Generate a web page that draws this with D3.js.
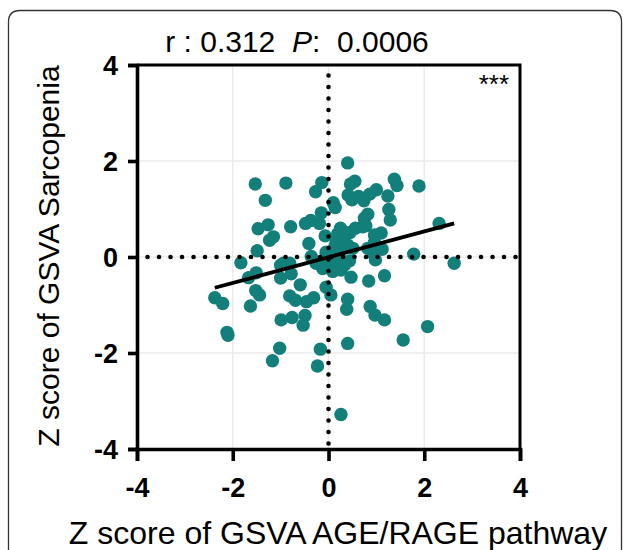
<!DOCTYPE html>
<html>
<head>
    <meta charset="utf-8">
    <title>GSVA correlation</title>
    <style>
        body { margin: 0; background: #fff; }
        text { font-family: "Liberation Sans", Arial, sans-serif; }
        .grid line { stroke: #ebebeb; stroke-width: 1.5px; }
        .dot { fill: #127f7a; }
        .ref { stroke: #000; stroke-width: 4.6px; stroke-linecap: round; stroke-dasharray: 0 11.5; }
        .tick-label { font-size: 27px; font-weight: bold; }
    </style>
    <script src="https://d3js.org/d3.v7.min.js"></script>
</head>
<body>
<svg id="chart" width="627" height="550"></svg>

<script>
    // AGE/RAGE pathway z score (x) and Sarcopenia z score (y)
    var ageRage = [0.40, -1.53, -0.89, -1.32, -0.14, -0.27, 0.46, 0.55, 0.41, 0.49,
        0.63, 0.74, 0.86, 1.00, 1.24, 1.375, 1.43, 1.89, 1.26, 1.29,
        0.82, 0.78, 1.10, 2.31, 0.10, 0.14, -0.15, -0.48, -0.37, -0.19,
        -0.79, -1.47, -1.26, -1.23, -1.15, -1.49, -0.41, -0.07, 0.25, 0.19,
        0.30, 0.45, 0.56, 0.71, 0.16, 0.33, 0.51, 0.96, 1.12, 0.94,
        1.78, 2.625, -1.83, -0.94, -0.81, 0.44, -1.67, -1.51, -2.375, -2.21,
        -2.12, -2.10, -1.52, -1.44, -1.63, -1.00, -1.00, -0.78, -0.59, -0.81,
        -0.69, -0.46, -0.31, -0.99, -0.76, -0.49, -0.53, -1.02, -1.17, -0.17,
        -0.23, 0.26, -0.05, 0.05, 0.47, 0.84, 1.17, 0.40, 0.38, 0.87,
        0.97, 1.17, 2.07, 1.56, 0.40, 0.98, -0.36, -0.26, -0.12, 0.02,
        0.16, 0.26, 0.75, 0.96, 0.13, 0.27, 0.40, 0.82, -0.12, -0.01,
        0.09, 0.33, -0.05, 0.03, 0.22];
    var sarcopenia = [1.96, 1.52, 1.54, 1.18, 1.55, 1.36, 1.52, 1.58, 1.29, 1.19,
        1.26, 1.17, 1.31, 1.40, 1.27, 1.62, 1.49, 1.48, 0.99, 0.77,
        0.89, 0.65, 0.50, 0.70, 1.13, 1.03, 0.92, 0.70, 0.76, 0.70,
        0.63, 0.59, 0.67, 0.35, 0.42, 0.13, 0.28, 0.44, 0.60, 0.48,
        0.44, 0.51, 0.60, 0.63, 0.32, 0.21, 0.18, 0.30, 0.16, 0.06,
        0.06, -0.13, -0.12, -0.13, -0.13, -0.08, -0.43, -0.33, -0.85, -0.97,
        -1.57, -1.63, -0.70, -0.79, -1.02, -0.17, -0.44, -0.35, -0.58, -0.81,
        -0.90, -0.93, -0.85, -1.31, -1.26, -1.22, -1.42, -1.90, -2.16, -1.92,
        -2.27, -3.28, -0.63, -0.79, -0.42, -0.50, -0.39, -0.88, -1.09, -1.03,
        -1.21, -1.31, -1.45, -1.73, -1.80, -0.06, 0.01, -0.13, -0.24, -0.17,
        -0.13, -0.27, 0.81, 0.46, 0.21, 0.18, 0.25, 0.18, -0.10, -0.03,
        -0.30, -0.17, 0.10, 0.05, 0.05];

    var tickValues = [-4, -2, 0, 2, 4];
    var fitSlope = 0.268;
    var fitIntercept = -0.004;

    var svg = d3.select("#chart");

    // card outline
    svg.append("path")
        .attr("d", "M8.5,560 L8.5,22 Q8.5,10.5 20,10.5 L610,10.5 Q621.5,10.5 621.5,22 L621.5,560")
        .attr("fill", "none")
        .attr("stroke", "#333")
        .attr("stroke-width", 1.3);

    var x = d3.scaleLinear().domain([-4, 4]).range([137, 520]);
    var y = d3.scaleLinear().domain([-4, 4]).range([449, 65]);

    // light grid
    var grid = svg.append("g").attr("class", "grid");
    grid.selectAll(".gx").data([-2, 0, 2]).enter().append("line")
        .attr("x1", function(d) { return x(d); }).attr("x2", function(d) { return x(d); })
        .attr("y1", y(4)).attr("y2", y(-4));
    grid.selectAll(".gy").data([-2, 0, 2]).enter().append("line")
        .attr("y1", function(d) { return y(d); }).attr("y2", function(d) { return y(d); })
        .attr("x1", x(-4)).attr("x2", x(4));

    // points
    var points = ageRage.map(function(v, i) { return { x: v, y: sarcopenia[i] }; });
    svg.selectAll(".dot").data(points).enter().append("circle")
        .attr("class", "dot")
        .attr("r", 6.7)
        .attr("cx", function(d) { return x(d.x); })
        .attr("cy", function(d) { return y(d.y); });

    // dotted zero lines
    svg.append("line").attr("class", "ref")
        .attr("x1", x(0)).attr("x2", x(0)).attr("y1", y(3.78)).attr("y2", y(-4));
    svg.append("line").attr("class", "ref")
        .attr("x1", x(-3.78)).attr("x2", x(4)).attr("y1", y(0)).attr("y2", y(0));

    // regression line over data range
    var xr = d3.extent(ageRage);
    svg.append("line")
        .attr("x1", x(xr[0])).attr("y1", y(fitSlope * xr[0] + fitIntercept))
        .attr("x2", x(xr[1])).attr("y2", y(fitSlope * xr[1] + fitIntercept))
        .attr("stroke", "#000").attr("stroke-width", 3.8);

    // frame (top + right)
    svg.append("path")
        .attr("d", "M" + x(-4) + "," + y(4) + " H" + x(4) + " V" + y(-4))
        .attr("fill", "none").attr("stroke", "#000").attr("stroke-width", 3);

    // axes
    var xAxis = svg.append("g").attr("transform", "translate(0," + y(-4) + ")")
        .call(d3.axisBottom(x).tickValues(tickValues).tickSize(12).tickPadding(17).tickFormat(d3.format("d")));
    var yAxis = svg.append("g").attr("transform", "translate(" + x(-4) + ",0)")
        .call(d3.axisLeft(y).tickValues(tickValues).tickSize(9).tickPadding(10).tickFormat(d3.format("d")));
    [xAxis, yAxis].forEach(function(a) {
        a.select(".domain").attr("stroke-width", 3.6).attr("stroke", "#000");
        a.selectAll(".tick line").attr("stroke-width", 3.6).attr("stroke", "#000");
        a.selectAll(".tick text").attr("class", "tick-label").attr("fill", "#000")
            .style("font-family", "'Liberation Sans', Arial, sans-serif")
            .text(function(d) { return d < 0 ? "-" + Math.abs(d) : d; });
    });
    yAxis.selectAll(".tick text").attr("dy", "0.36em");
    xAxis.selectAll(".tick text").attr("dy", "0.71em");

    // title
    var title = svg.append("text")
        .attr("x", 297).attr("y", 52)
        .attr("text-anchor", "middle")
        .attr("xml:space", "preserve")
        .style("font-size", "30px");
    title.append("tspan").text("r : 0.312  ");
    title.append("tspan").style("font-style", "italic").text("P");
    title.append("tspan").text(":  0.0006");

    svg.append("text")
        .attr("x", 509).attr("y", 93)
        .attr("text-anchor", "end")
        .style("font-size", "26px")
        .text("***");

    // axis labels
    svg.append("text")
        .attr("x", 338).attr("y", 544)
        .attr("text-anchor", "middle")
        .style("font-size", "32px")
        .text("Z score of GSVA AGE/RAGE pathway");

    svg.append("text")
        .attr("transform", "translate(59,256) rotate(-90)")
        .attr("text-anchor", "middle")
        .style("font-size", "30px")
        .text("Z score of GSVA Sarcopenia");
</script>
</body>
</html>
